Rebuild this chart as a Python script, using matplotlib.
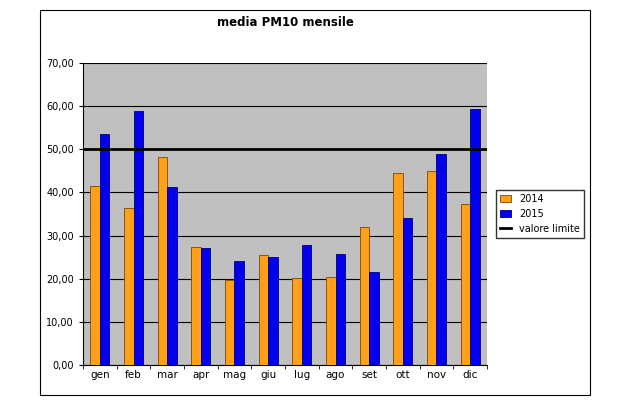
import numpy as np
import matplotlib
matplotlib.use("Agg")
from matplotlib import pyplot as plt
from matplotlib.patches import Rectangle

months = ['gen', 'feb', 'mar', 'apr', 'mag', 'giu', 'lug', 'ago', 'set', 'ott', 'nov', 'dic']
pm10_2014 = [41.6, 36.3, 48.1, 27.3, 19.6, 25.5, 20.2, 20.4, 32.1, 44.6, 45.0, 37.4]
pm10_2015 = [53.6, 58.8, 41.3, 27.1, 24.0, 25.0, 27.7, 25.7, 21.5, 34.0, 49.0, 59.4]
limit = 50
yticks = [0, 10, 20, 30, 40, 50, 60, 70]

fig = plt.figure(figsize=(6.3, 4.2), dpi=100)
fig.patches.append(Rectangle((40 / 630, 25 / 420), 550 / 630, 385 / 420, transform=fig.transFigure,
                             fill=False, edgecolor='black', linewidth=0.8))
ax = fig.add_axes([83 / 630, 55 / 420, 404 / 630, 302 / 420])
ax.set_facecolor('#c0c0c0')

x = np.arange(len(months))
w = 0.28
b1 = ax.bar(x - w / 2, pm10_2014, w, color='#ff9f1a', edgecolor='#7a4a00', linewidth=0.6, label='2014', zorder=3)
b2 = ax.bar(x + w / 2, pm10_2015, w, color='#0000ee', edgecolor='#000080', linewidth=0.6, label='2015', zorder=3)
ln = ax.axhline(limit, color='black', linewidth=2, label='valore limite', zorder=4)

ax.set_xlim(-0.5, len(months) - 0.5)
ax.set_ylim(0, 70)
ax.set_yticks(yticks)
ax.set_yticklabels([f'{v:.2f}'.replace('.', ',') for v in yticks], fontsize=7)
ax.yaxis.grid(True, color='black', linewidth=0.8, zorder=1)
ax.set_xticks(x)
ax.set_xticklabels(months, fontsize=7.5)
ax.set_xticks(np.arange(len(months) + 1) - 0.5, minor=True)
ax.tick_params(axis='x', which='major', length=0)
ax.tick_params(axis='x', which='minor', length=3)
ax.tick_params(axis='y', length=3)
for s in ['top', 'right']:
    ax.spines[s].set_visible(False)

ax.set_title('media PM10 mensile', fontsize=8.5, fontweight='bold', pad=27)
ax.legend([b1, b2, ln], ['2014', '2015', 'valore limite'], loc='center left', bbox_to_anchor=(1.01, 0.5),
          fontsize=7, frameon=True, fancybox=False, edgecolor='black', handlelength=1.2, borderpad=0.4)

fig.savefig('out.png', dpi=100)
